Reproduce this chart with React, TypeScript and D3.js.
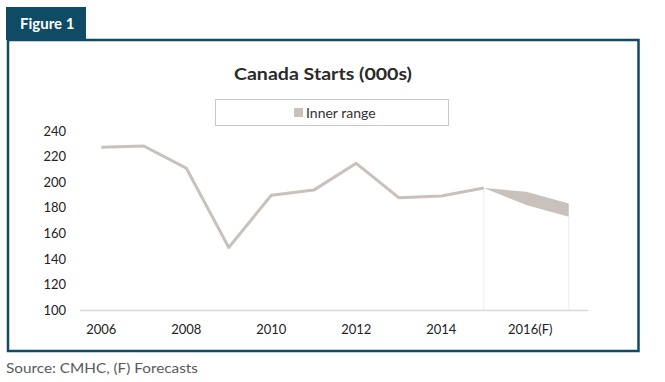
import React from "react";
import * as d3 from "d3";

const years = [2006, 2007, 2008, 2009, 2010, 2011, 2012, 2013, 2014, 2015, 2016, 2017];
const starts = [227.4, 228.3, 211.1, 149.1, 189.9, 193.9, 214.8, 188.0, 189.3, 195.5];
const rangeYears = [2015, 2016, 2017];
const rangeLow = [195.5, 182.3, 173.2];
const rangeHigh = [195.5, 192.6, 183.5];
const yTicks = [100, 120, 140, 160, 180, 200, 220, 240];
const xLabels: { year: number; label: string }[] = [
  { year: 2006, label: "2006" },
  { year: 2008, label: "2008" },
  { year: 2010, label: "2010" },
  { year: 2012, label: "2012" },
  { year: 2014, label: "2014" },
  { year: 2016, label: "2016(F)" },
];
const vLines = [2015, 2017];

const FONT = "Lato, 'Open Sans', sans-serif";
const TEAL = "#0f4b64";
const SERIES = "#c8c1bc";

export default function App() {
  const W = 665, H = 382;
  const x0 = 80, x1 = 590;
  const band = (x1 - x0) / years.length;
  const x = (yr: number) => x0 + band * (yr - years[0]) + band / 2;
  const y = d3.scaleLinear().domain([100, 240]).range([310.5, 131]);

  const lineData = starts.map((v, i) => ({ yr: years[i], v }));
  const line = d3.line<{ yr: number; v: number }>().x(d => x(d.yr)).y(d => y(d.v));
  const areaData = rangeYears.map((yr, i) => ({ yr, lo: rangeLow[i], hi: rangeHigh[i] }));
  const area = d3.area<{ yr: number; lo: number; hi: number }>()
    .x(d => x(d.yr)).y0(d => y(d.lo)).y1(d => y(d.hi));
  const lowAt = (yr: number) => rangeLow[rangeYears.indexOf(yr)];

  return (
    <svg width={W} height={H} style={{ position: "absolute", left: 0, top: 0, background: "#fff" }}>
      {/* tab */}
      <rect x={6} y={7} width={80} height={33} fill={TEAL} />
      <text x={20} y={29} fill="#fff" fontFamily={FONT} fontWeight={700} fontSize={15}>Figure 1</text>
      {/* frame */}
      <rect x={8} y={40} width={630.5} height={311} fill="none" stroke={TEAL} strokeWidth={2.5} />

      {/* title */}
      <text x={323} y={80} textAnchor="middle" fontFamily={FONT} fontWeight={700} fontSize={17} fill="#2a2a2a"
        textLength={178} lengthAdjust="spacingAndGlyphs">
        Canada Starts (000s)
      </text>
      {/* legend */}
      <rect x={215.5} y={99.5} width={233} height={26} fill="#fff" stroke="#c8c8c8" strokeWidth={1} />
      <rect x={294} y={108} width={9} height={9} fill={SERIES} />
      <text x={306} y={117.5} fontFamily={FONT} fontSize={14} fill="#333">Inner range</text>

      {/* vertical lines */}
      {vLines.map(v => (
        <line key={v} x1={x(v)} x2={x(v)} y1={y(lowAt(v))} y2={310.5} stroke="#ececec" strokeWidth={1} />
      ))}

      {/* baseline */}
      <line x1={x0} x2={x1 - 2} y1={310.5} y2={310.5} stroke="#d9d9d9" strokeWidth={1.5} />

      {/* y ticks */}
      {yTicks.map(t => (
        <text key={t} x={66} y={y(t) + 4.5} textAnchor="end" fontFamily={FONT} fontSize={13} fill="#222">{t}</text>
      ))}
      {/* x labels */}
      {xLabels.map(l => (
        <text key={l.label} x={x(l.year) + (l.label.length > 4 ? 4 : 0)} y={334} textAnchor="middle" fontFamily={FONT} fontSize={13} fill="#222">{l.label}</text>
      ))}

      <path d={area(areaData) || ""} fill={SERIES} />
      <path d={line(lineData) || ""} fill="none" stroke={SERIES} strokeWidth={3} strokeLinejoin="round" />

      <text x={6} y={373} fontFamily={FONT} fontSize={14} fill="#5a5a5a" textLength={192} lengthAdjust="spacingAndGlyphs">Source: CMHC, (F) Forecasts</text>
    </svg>
  );
}
